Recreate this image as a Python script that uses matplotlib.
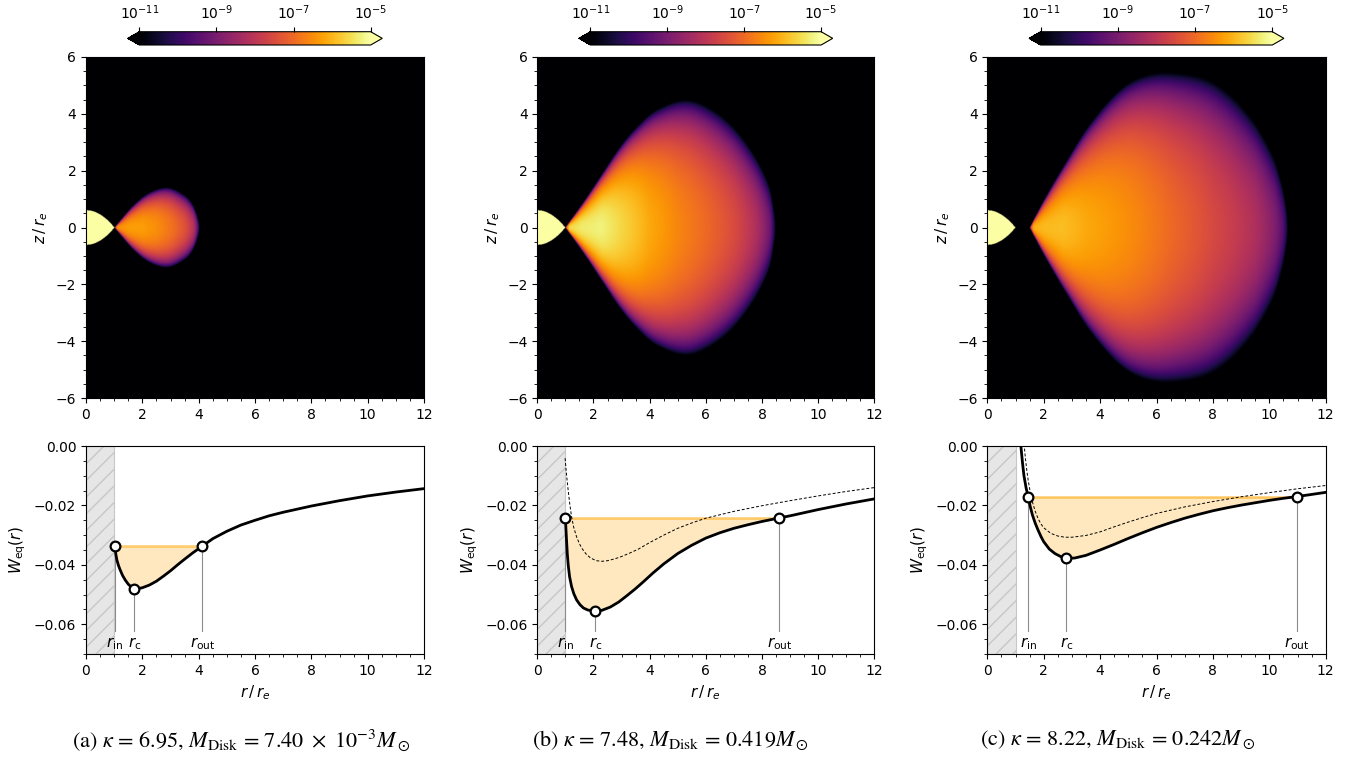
import numpy as np
import matplotlib
matplotlib.use("Agg")
import matplotlib.pyplot as plt
from matplotlib.colors import LogNorm
from matplotlib.ticker import MultipleLocator, AutoMinorLocator

# ------------------------------------------------------------------ data
panel_tags = ["(a)", "(b)", "(c)"]
kappa = [6.95, 7.48, 8.22]
m_disk = [r"7.40 \times 10^{-3}", "0.419", "0.242"]

# equatorial effective potential W_eq(r), solid curves
r_sol_a = [1.03, 1.06, 1.1, 1.15, 1.2, 1.3, 1.4, 1.5, 1.6, 1.72, 1.85, 2.0, 2.25,
           2.5, 2.75, 3.0, 3.25, 3.5, 3.8, 4.13, 4.5, 5.0, 5.5, 6.0, 6.5, 7.0, 8.0,
           9.0, 10.0, 11.0, 12.0]
w_sol_a = [-0.0337, -0.0365, -0.0385, -0.0401, -0.0414, -0.0436, -0.0452, -0.0465,
           -0.0474, -0.0480, -0.0480, -0.0477, -0.0468, -0.0455, -0.0438, -0.0420,
           -0.0400, -0.0381, -0.0359, -0.0337, -0.0312, -0.0287, -0.0266, -0.0250,
           -0.0235, -0.0223, -0.0202, -0.0184, -0.0168, -0.0155, -0.01435]

r_sol_b = [1.0, 1.02, 1.04, 1.07, 1.1, 1.15, 1.22, 1.3, 1.4, 1.52, 1.64, 1.8, 2.07,
           2.3, 2.6, 2.9, 3.2, 3.5, 3.8, 4.1, 4.5, 5.0, 5.5, 6.0, 6.5, 7.0, 7.5,
           8.0, 8.62, 9.0, 10.0, 11.0, 12.0]
w_sol_b = [-0.0242, -0.0280, -0.0316, -0.0365, -0.0400, -0.0440, -0.0473, -0.0497,
           -0.0518, -0.0534, -0.0545, -0.0552, -0.0556, -0.0553, -0.0542, -0.0525,
           -0.0503, -0.0480, -0.0455, -0.0429, -0.0397, -0.0362, -0.0334, -0.0310,
           -0.0292, -0.0277, -0.0265, -0.0254, -0.0242, -0.0235, -0.0214, -0.0195,
           -0.0178]
r_dash_b = [0.99, 1.02, 1.05, 1.1, 1.16, 1.22, 1.3, 1.4, 1.5, 1.6, 1.75, 1.9, 2.1,
            2.3, 2.5, 2.75, 3.0, 3.3, 3.6, 4.0, 4.5, 5.0, 5.5, 6.0, 7.0, 8.0, 9.0,
            10.0, 11.0, 12.0]
w_dash_b = [-0.0041, -0.0075, -0.0105, -0.0150, -0.0198, -0.0238, -0.0275, -0.0306,
            -0.0329, -0.0346, -0.0365, -0.0377, -0.0386, -0.0388, -0.0386, -0.0380,
            -0.0372, -0.0360, -0.0347, -0.0325, -0.0300, -0.0277, -0.0259, -0.0243,
            -0.0220, -0.0201, -0.0184, -0.0168, -0.0153, -0.0140]

r_sol_c = [1.16, 1.19, 1.25, 1.3, 1.38, 1.45, 1.52, 1.6, 1.7, 1.8, 1.9, 2.0, 2.2,
           2.4, 2.6, 2.8, 3.1, 3.5, 4.0, 4.5, 5.0, 5.5, 6.0, 6.5, 7.0, 7.5, 8.0,
           8.5, 9.0, 9.5, 10.0, 10.5, 10.99, 11.5, 12.0]
w_sol_c = [0.004, 0.0, -0.0058, -0.0100, -0.0143, -0.0170, -0.0203, -0.0232,
           -0.0260, -0.0283, -0.0304, -0.0322, -0.0347, -0.0362, -0.0372, -0.0378,
           -0.0377, -0.0368, -0.0350, -0.0331, -0.0311, -0.0292, -0.0274, -0.0258,
           -0.0243, -0.0230, -0.0218, -0.0208, -0.0199, -0.0191, -0.0183, -0.0176,
           -0.0170, -0.0163, -0.0156]
r_dash_c = [1.27, 1.31, 1.35, 1.4, 1.45, 1.5, 1.6, 1.7, 1.8, 1.9, 2.0, 2.25, 2.5,
            2.75, 3.0, 3.5, 4.0, 4.5, 5.0, 5.5, 6.0, 7.0, 8.0, 9.0, 10.0, 11.0, 12.0]
w_dash_c = [0.004, 0.0, -0.0040, -0.0082, -0.0115, -0.0143, -0.0188, -0.0220,
            -0.0244, -0.0262, -0.0275, -0.0294, -0.0303, -0.0307, -0.0307, -0.0301,
            -0.0289, -0.0272, -0.0256, -0.0241, -0.0227, -0.0205, -0.0187, -0.0171,
            -0.0157, -0.0144, -0.0133]

# characteristic radii and potential levels
r_in = [1.03, 1.0, 1.45]
r_c = [1.72, 2.07, 2.8]
r_out = [4.13, 8.62, 10.99]
w_in = [-0.0337, -0.0242, -0.0170]
w_c = [-0.0480, -0.0556, -0.0378]

# zero-density surface of the torus (upper half, estimated from the maps)
r_top_a = [1.0, 1.65, 2.25, 2.9, 3.5, 3.78, 3.97, 4.06]
z_top_a = [0.0, 0.80, 1.30, 1.50, 1.24, 0.92, 0.45, 0.0]
r_top_b = [1.0, 1.66, 2.31, 2.96, 3.56, 4.27, 5.34, 6.41, 7.35, 8.17, 8.45, 8.6]
z_top_b = [0.0, 0.94, 1.94, 2.95, 3.70, 4.36, 4.78, 4.38, 3.49, 2.15, 1.07, 0.0]
r_top_c = [1.5, 2.11, 2.82, 3.65, 4.71, 5.65, 6.73, 8.02, 9.2, 10.13, 10.57, 10.78]
z_top_c = [0.0, 1.19, 2.45, 3.83, 5.12, 5.70, 5.86, 5.63, 4.62, 3.10, 1.50, 0.0]

# log10 density along the equator (z = 0), inside the torus
r_eq_a = [1.1, 1.5, 2.0, 2.5, 3.0, 3.5, 3.8]
lrho_eq_a = [-6.5, -6.3, -6.3, -6.5, -6.85, -7.4, -8.1]
r_eq_b = [1.15, 1.6, 2.3, 3.0, 4.0, 5.0, 6.0, 7.0, 7.8, 8.3]
lrho_eq_b = [-5.6, -5.35, -5.25, -5.6, -6.15, -6.6, -7.0, -7.5, -8.2, -9.2]
r_eq_c = [1.65, 2.0, 2.7, 3.5, 5.0, 6.5, 8.0, 9.5, 10.2, 10.5]
lrho_eq_c = [-6.1, -5.95, -5.9, -6.15, -6.5, -7.0, -7.55, -8.2, -8.9, -9.6]

poly_n = 3.5      # radial (equatorial) index
vert_m = 4.5      # vertical fall-off index
# central star (drawn above colour range)
star_r_eq = 1.0
star_z_pole = 0.61
star_rho = 1e-3

solid_r = [r_sol_a, r_sol_b, r_sol_c]
solid_w = [w_sol_a, w_sol_b, w_sol_c]
dash_r = [None, r_dash_b, r_dash_c]
dash_w = [None, w_dash_b, w_dash_c]
top_r = [r_top_a, r_top_b, r_top_c]
top_z = [z_top_a, z_top_b, z_top_c]
eq_r = [r_eq_a, r_eq_b, r_eq_c]
eq_l = [lrho_eq_a, lrho_eq_b, lrho_eq_c]


def smooth_outline(px, pz, nseg=60):
    """Catmull-Rom curve through the outline points (V-shaped start,
    vertical tangent at the outer end)."""
    P = np.column_stack([px, pz]).astype(float)
    first = 2 * P[0] - P[1]
    last = np.array([P[-2, 0], -P[-2, 1]])
    Q = np.vstack([first, P, last])
    out = []
    t = np.linspace(0, 1, nseg, endpoint=False)[:, None]
    for k in range(1, len(Q) - 2):
        p0, p1, p2, p3 = Q[k - 1], Q[k], Q[k + 1], Q[k + 2]
        seg = 0.5 * (2 * p1 + (-p0 + p2) * t + (2 * p0 - 5 * p1 + 4 * p2 - p3) * t ** 2
                     + (-p0 + 3 * p1 - 3 * p2 + p3) * t ** 3)
        out.append(seg)
    out.append(P[-1][None, :])
    C = np.vstack(out)
    rs = np.maximum.accumulate(C[:, 0])
    zs = np.clip(C[:, 1], 0, None)
    return rs, zs


# ------------------------------------------------------------------ figure
W, H = 1363, 758
fig = plt.figure(figsize=(W / 100, H / 100), dpi=100)

lefts = [86.0, 537.3, 987.3]
widths = [338.0, 337.0, 338.4]
cmap = plt.get_cmap("inferno")
norm = LogNorm(vmin=1e-11, vmax=1e-5)

nr, nz = 800, 800
rg = np.linspace(0, 12, nr)
zg = np.linspace(-6, 6, nz)
R, Z = np.meshgrid(rg, zg)

for i in range(3):
    L, Wd = lefts[i], widths[i]
    # ---------------- density map
    ax = fig.add_axes([L / W, 1 - 398 / H, Wd / W, 341 / H])
    rs, zs = smooth_outline(top_r[i], top_z[i])
    zt = np.interp(rg, rs, zs, left=0.0, right=0.0)
    lpk = max(eq_l[i])
    h_pts = 10.0 ** ((np.array(eq_l[i]) - lpk) / poly_n)
    r_h = np.concatenate([[top_r[i][0]], eq_r[i], [top_r[i][-1]]])
    h_h = np.concatenate([[0.0], h_pts, [0.0]])
    heq = np.interp(rg, r_h, h_h, left=0.0, right=0.0)
    ZT = np.broadcast_to(zt, R.shape)
    HE = np.broadcast_to(heq, R.shape)
    safe = np.where(ZT > 0, ZT, 1.0)
    vert = np.clip(np.where(ZT > 0, 1 - (Z / safe) ** 2, 0.0), 0, None)
    rho = 10.0 ** lpk * HE ** poly_n * vert ** vert_m
    rho = np.maximum(rho, 1e-20)
    star = np.abs(Z) <= star_z_pole * (1 - (R / star_r_eq) ** 2)
    rho[star] = star_rho
    im = ax.imshow(rho, origin="lower", extent=[0, 12, -6, 6], aspect="auto",
                   cmap=cmap, norm=norm, interpolation="bilinear")
    ax.set_xlim(0, 12)
    ax.set_ylim(-6, 6)
    ax.xaxis.set_major_locator(MultipleLocator(2))
    ax.yaxis.set_major_locator(MultipleLocator(2))
    ax.xaxis.set_minor_locator(AutoMinorLocator(4))
    ax.yaxis.set_minor_locator(AutoMinorLocator(4))
    ax.tick_params(labelsize=10)
    ax.set_ylabel(r"$z\,/\,r_e$", fontsize=11)

    # ---------------- colorbar
    cax = fig.add_axes([(L + Wd * 0.1235) / W, 1 - 45 / H, Wd * 0.753 / W, 13.3 / H])
    cb = fig.colorbar(im, cax=cax, orientation="horizontal", extend="both")
    cb.set_ticks([1e-11, 1e-9, 1e-7, 1e-5])
    cb.ax.minorticks_off()
    cb.ax.xaxis.set_ticks_position("top")
    cb.ax.xaxis.set_label_position("top")
    cb.ax.tick_params(labelsize=10)

    # ---------------- potential curve
    bx = fig.add_axes([L / W, 1 - 654 / H, Wd / W, 208 / H])
    bx.axvspan(0, 1, facecolor="0.9", edgecolor="0.78", hatch="//", linewidth=0.8,
               zorder=0)
    rsol = np.array(solid_r[i])
    wsol = np.array(solid_w[i])
    mask = (rsol >= r_in[i] - 1e-9) & (rsol <= r_out[i] + 1e-9)
    bx.fill_between(rsol[mask], wsol[mask], w_in[i], color="orange", alpha=0.25,
                    linewidth=0, zorder=1)
    bx.plot([r_in[i], r_out[i]], [w_in[i], w_in[i]], color="orange", alpha=0.5,
            lw=2, zorder=2)
    if dash_r[i] is not None:
        bx.plot(dash_r[i], dash_w[i], color="black", lw=0.7, ls=(0, (3, 2)),
                zorder=3)
    bx.plot(rsol, wsol, color="black", lw=2, zorder=4)
    mr = [r_in[i], r_c[i], r_out[i]]
    mw = [w_in[i], w_c[i], w_in[i]]
    names = [r"$r_\mathrm{in}$", r"$r_\mathrm{c}$", r"$r_\mathrm{out}$"]
    for xr, yw, nm in zip(mr, mw, names):
        bx.plot([xr, xr], [yw, -0.0622], color="0.55", lw=0.8, zorder=2)
        bx.text(xr, -0.0664, nm, ha="center", va="center", fontsize=11)
    bx.plot(mr, mw, "o", ms=7, mfc="white", mec="black", mew=1.6, zorder=5)
    bx.set_xlim(0, 12)
    bx.set_ylim(-0.07, 0)
    bx.xaxis.set_major_locator(MultipleLocator(2))
    bx.yaxis.set_major_locator(MultipleLocator(0.02))
    bx.xaxis.set_minor_locator(AutoMinorLocator(4))
    bx.yaxis.set_minor_locator(AutoMinorLocator(4))
    bx.tick_params(labelsize=10)
    bx.set_xlabel(r"$r\,/\,r_e$", fontsize=11)
    bx.set_ylabel(r"$W_\mathrm{eq}(r)$", fontsize=11)

# ---------------- captions
cap_x = [241, 670, 1118]
for i in range(3):
    txt = (panel_tags[i] + r" $\kappa$ = " + f"{kappa[i]:.2f}" +
           r", $M_\mathrm{Disk}$ = $" + m_disk[i].replace(r"\times", r"\ \times\ ")
           + r"M_\odot$")
    fig.text(cap_x[i] / W, 1 - 740 / H, txt, ha="center", va="center",
             fontsize=16, family="STIXGeneral", math_fontfamily="stix")

fig.savefig("out.png", dpi=100)
